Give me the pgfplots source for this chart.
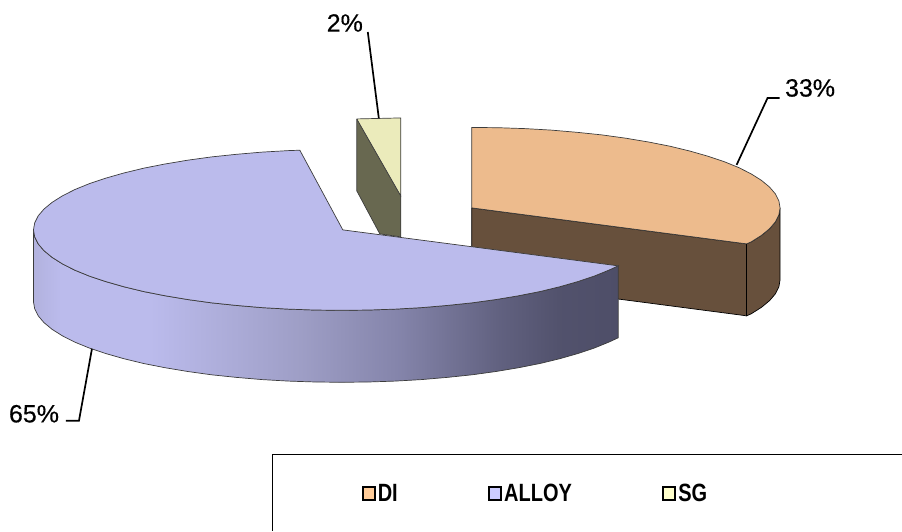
\documentclass[border=0pt]{standalone}
\usepackage{pgfplots}
\usepackage{fontspec}
\setmainfont{Liberation Sans}
\newfontfamily\lab[FakeBold=0.35]{Liberation Sans}
\pgfplotsset{compat=1.18}
\definecolor{ditop}{RGB}{237,187,141}
\definecolor{diside}{RGB}{103,80,60}
\definecolor{altop}{RGB}{187,187,236}
\definecolor{sgtop}{RGB}{235,235,187}
\definecolor{sgside}{RGB}{104,104,80}
\definecolor{edge}{RGB}{60,60,60}
\pgfdeclarehorizontalshading{rim}{100bp}{
 rgb(0bp)=(0.698,0.698,0.871);
 rgb(25bp)=(0.698,0.698,0.871);
 rgb(27.3bp)=(0.733,0.733,0.925);
 rgb(35bp)=(0.733,0.733,0.925);
 rgb(42.6bp)=(0.667,0.667,0.839);
 rgb(47.8bp)=(0.620,0.620,0.776);
 rgb(56.3bp)=(0.518,0.518,0.667);
 rgb(64.9bp)=(0.380,0.380,0.500);
 rgb(70bp)=(0.320,0.320,0.425);
 rgb(75bp)=(0.306,0.306,0.408);
 rgb(100bp)=(0.306,0.306,0.408)}
\begin{document}
\begin{tikzpicture}
\begin{axis}[
  scale only axis, width=902pt, height=531pt,
  xmin=0, xmax=902, ymin=0, ymax=531, y dir=reverse,
  hide axis, clip=false,
  legend style={draw=none, fill=none, at={(axis cs:362,494)}, anchor=west,
    legend columns=3, inner sep=0pt, outer sep=0pt,
    font=\fontsize{20}{22}\selectfont\bfseries,
    /tikz/every even column/.style={column sep=88.5pt}},
  legend cell align=left,
]
\path (axis cs:0,0) rectangle (axis cs:902,531);
% SG slice
\addplot[forget plot, draw=edge, line width=0.7pt, fill=sgside] coordinates {(357,119)(401,196)(401,237)(380,234)(357,191)(357,119)};
\addplot[forget plot, draw=edge, line width=0.7pt, fill=sgtop] coordinates {(357,119)(401,118)(401,196)(357,119)};
% DI slice
\addplot[forget plot, draw=black, line width=0.7pt, fill=diside] coordinates {(472,208)(747,244)(747,316)(472,280)(472,208)};
\addplot[forget plot, draw=black, line width=0.7pt, fill=diside] coordinates {(780.5,208)(779.3,215)(775.8,222)(770,228.8)(761.9,235.5)(751.6,242)(747,244)(747,316)(751.6,314)(761.9,307.5)(770,300.8)(775.8,294)(779.3,287)(780.5,280)(780.5,208)};
\addplot[forget plot, draw=edge, line width=0.7pt, fill=ditop] coordinates {(472,208)(472,127.5)(498.9,127.8)(525.6,128.7)(551.8,130.2)(577.5,132.4)(602.4,135)(626.3,138.3)(649,142.1)(670.3,146.3)(690.1,151.1)(708.3,156.3)(724.7,161.8)(739.2,167.7)(751.6,174)(761.9,180.5)(770,187.2)(775.8,194)(779.3,201)(780.5,208)(779.3,215)(775.8,222)(770,228.8)(761.9,235.5)(751.6,242)(747,244)(472,208)};
% ALLOY rim
\addplot[forget plot, draw=edge, line width=0.7pt, shading=rim] coordinates {
(33.5,230)(34.7,237)(38.2,244)(44,250.8)(52.1,257.5)(62.4,264)(74.8,270.3)(89.3,276.2)(105.7,281.7)(123.9,286.9)(143.7,291.7)(165,295.9)(187.7,299.7)(211.6,303)(236.5,305.6)(262.2,307.8)(288.4,309.3)(315.1,310.2)(342,310.5)(368.9,310.2)(395.6,309.3)(421.8,307.8)(447.5,305.6)(472.4,303)(496.3,299.7)(519,295.9)(540.3,291.7)(560.1,286.9)(578.3,281.7)(594.7,276.2)(609.2,270.3)(618.5,266)
(618.5,338)(609.2,342.3)(594.7,348.2)(578.3,353.7)(560.1,358.9)(540.3,363.7)(519,367.9)(496.3,371.7)(472.4,375)(447.5,377.6)(421.8,379.8)(395.6,381.3)(368.9,382.2)(342,382.5)(315.1,382.2)(288.4,381.3)(262.2,379.8)(236.5,377.6)(211.6,375)(187.7,371.7)(165,367.9)(143.7,363.7)(123.9,358.9)(105.7,353.7)(89.3,348.2)(74.8,342.3)(62.4,336)(52.1,329.5)(44,322.8)(38.2,316)(34.7,309)(33.5,302)(33.5,230)};
% ALLOY top
\addplot[forget plot, draw=edge, line width=0.7pt, fill=altop] coordinates {
(343,230)(300,150.3)(288.4,150.7)(262.2,152.2)(236.5,154.4)(211.6,157)(187.7,160.3)(165,164.1)(143.7,168.3)(123.9,173.1)(105.7,178.3)(89.3,183.8)(74.8,189.7)(62.4,196)(52.1,202.5)(44,209.2)(38.2,216)(34.7,223)(33.5,230)
(34.7,237)(38.2,244)(44,250.8)(52.1,257.5)(62.4,264)(74.8,270.3)(89.3,276.2)(105.7,281.7)(123.9,286.9)(143.7,291.7)(165,295.9)(187.7,299.7)(211.6,303)(236.5,305.6)(262.2,307.8)(288.4,309.3)(315.1,310.2)(342,310.5)(368.9,310.2)(395.6,309.3)(421.8,307.8)(447.5,305.6)(472.4,303)(496.3,299.7)(519,295.9)(540.3,291.7)(560.1,286.9)(578.3,281.7)(594.7,276.2)(609.2,270.3)(618.5,266)(343,230)};
% leader lines
\addplot[forget plot, black, line width=1.7pt] coordinates {(737,165)(768,98)(780,98)};
\addplot[forget plot, black, line width=1.7pt] coordinates {(368,32)(379,118)};
\addplot[forget plot, black, line width=1.7pt] coordinates {(92,349)(79,421)(66,421)};
% legend frame
\addplot[forget plot, black, line width=1pt] coordinates {(273,531)(273,455)(902,455)};
\node[font=\fontsize{25}{28}\selectfont\lab] at (axis cs:810.5,88) {33\%};
\node[font=\fontsize{25}{28}\selectfont\lab] at (axis cs:345,23) {2\%};
\node[font=\fontsize{25}{28}\selectfont\lab] at (axis cs:34,414) {65\%};
\pgfplotsset{legend image code/.code={\draw[#1] (0pt,-6pt) rectangle (12pt,7pt);}}
\addlegendimage{draw=black, line width=2pt, fill={rgb,255:red,255;green,204;blue,153}}
\addlegendentry{\scalebox{1}[1.25]{DI}}
\addlegendimage{draw=black, line width=2pt, fill={rgb,255:red,204;green,204;blue,255}}
\addlegendentry{\scalebox{1}[1.25]{ALLOY}}
\addlegendimage{draw=black, line width=2pt, fill={rgb,255:red,255;green,255;blue,204}}
\addlegendentry{\scalebox{1}[1.25]{SG}}
\end{axis}
\end{tikzpicture}
\end{document}
